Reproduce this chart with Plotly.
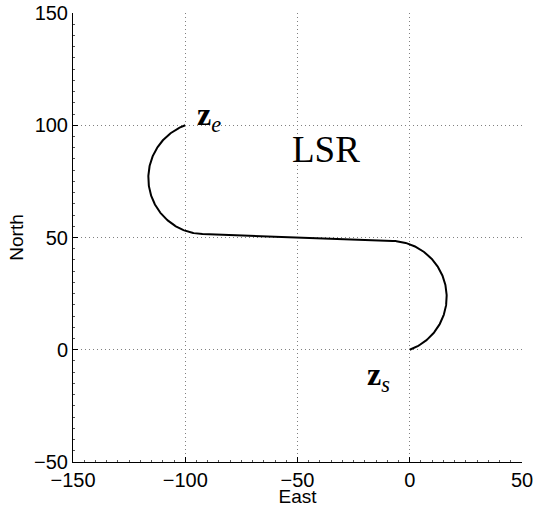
import numpy as np
import plotly.graph_objects as go

# Dubins path configuration (East, North, heading in degrees from East, CCW)
start_pose = [0.0, 0.0, 20.0]
end_pose = [-100.0, 100.0, 20.0]
turn_radius = 25.0
path_label = "LSR"

x_range = [-150, 50]
y_range = [-50, 150]
x_ticks = [-150, -100, -50, 0, 50]
y_ticks = [-50, 0, 50, 100, 150]


def lsr_path(ps, pe, R, n=200):
    """Left arc - straight - right arc between two poses."""
    ths, the = np.radians(ps[2]), np.radians(pe[2])
    p_s = np.array(ps[:2])
    p_e = np.array(pe[:2])
    c_s = p_s + R * np.array([-np.sin(ths), np.cos(ths)])   # left-turn circle
    c_e = p_e + R * np.array([np.sin(the), -np.cos(the)])   # right-turn circle
    d = c_e - c_s
    ell = np.hypot(*d)
    alpha = np.arctan2(d[1], d[0])
    nang = alpha - np.arccos(2 * R / ell)
    nvec = np.array([np.cos(nang), np.sin(nang)])
    t1 = c_s + R * nvec
    t2 = c_e - R * nvec

    # first arc (counter-clockwise)
    a0 = np.arctan2(p_s[1] - c_s[1], p_s[0] - c_s[0])
    a1 = nang
    while a1 < a0:
        a1 += 2 * np.pi
    a = np.linspace(a0, a1, n)
    arc1 = c_s[:, None] + R * np.vstack([np.cos(a), np.sin(a)])

    # final arc (clockwise)
    b0 = nang + np.pi
    b1 = np.arctan2(p_e[1] - c_e[1], p_e[0] - c_e[0])
    while b1 > b0:
        b1 -= 2 * np.pi
    b = np.linspace(b0, b1, n)
    arc2 = c_e[:, None] + R * np.vstack([np.cos(b), np.sin(b)])

    xs = np.concatenate([arc1[0], [t1[0], t2[0]], arc2[0]])
    ys = np.concatenate([arc1[1], [t1[1], t2[1]], arc2[1]])
    return xs, ys


px, py = lsr_path(start_pose, end_pose, turn_radius)

fig = go.Figure()
fig.add_trace(go.Scatter(
    x=px, y=py, mode="lines",
    line=dict(color="black", width=2),
    hoverinfo="skip", showlegend=False,
))

serif = "Liberation Serif"
fig.add_annotation(
    x=end_pose[0] + 4.5, y=end_pose[1] + 4, xref="x", yref="y",
    text="<b>z</b><sub><i>e</i></sub>", showarrow=False,
    xanchor="left", yanchor="middle",
    font=dict(family=serif, size=32, color="black"),
)
fig.add_annotation(
    x=start_pose[0] - 20, y=start_pose[1] - 12, xref="x", yref="y",
    text="<b>z</b><sub><i>s</i></sub>", showarrow=False,
    xanchor="left", yanchor="middle",
    font=dict(family=serif, size=32, color="black"),
)
fig.add_annotation(
    x=-37.5, y=89, xref="x", yref="y",
    text=path_label, showarrow=False,
    xanchor="center", yanchor="middle",
    font=dict(family=serif, size=37, color="black"),
)

axis_common = dict(
    showgrid=True, gridcolor="#808080", gridwidth=1, griddash="1px,3px",
    zeroline=False, showline=True, linecolor="black", linewidth=1,
    ticks="inside", ticklen=5, tickcolor="black",
    tickfont=dict(family="Liberation Sans", size=20, color="black"),
    minor=dict(ticks="inside", ticklen=2, dtick=5, tickcolor="#555", showgrid=False),
    mirror=False, automargin=False,
)

fig.update_xaxes(
    range=x_range, tickvals=x_ticks, autorange=False,
    title=dict(text="East", font=dict(family="Liberation Sans", size=19, color="black"), standoff=3),
    **axis_common,
)
fig.update_yaxes(
    range=y_range, tickvals=y_ticks, autorange=False,
    title=dict(text="North", font=dict(family="Liberation Sans", size=19, color="black"), standoff=5),
    **axis_common,
)

fig.update_layout(
    width=535, height=507,
    margin=dict(l=73, r=13, t=13, b=45),
    plot_bgcolor="white", paper_bgcolor="white",
    showlegend=False,
)

fig.write_html("out.html")
